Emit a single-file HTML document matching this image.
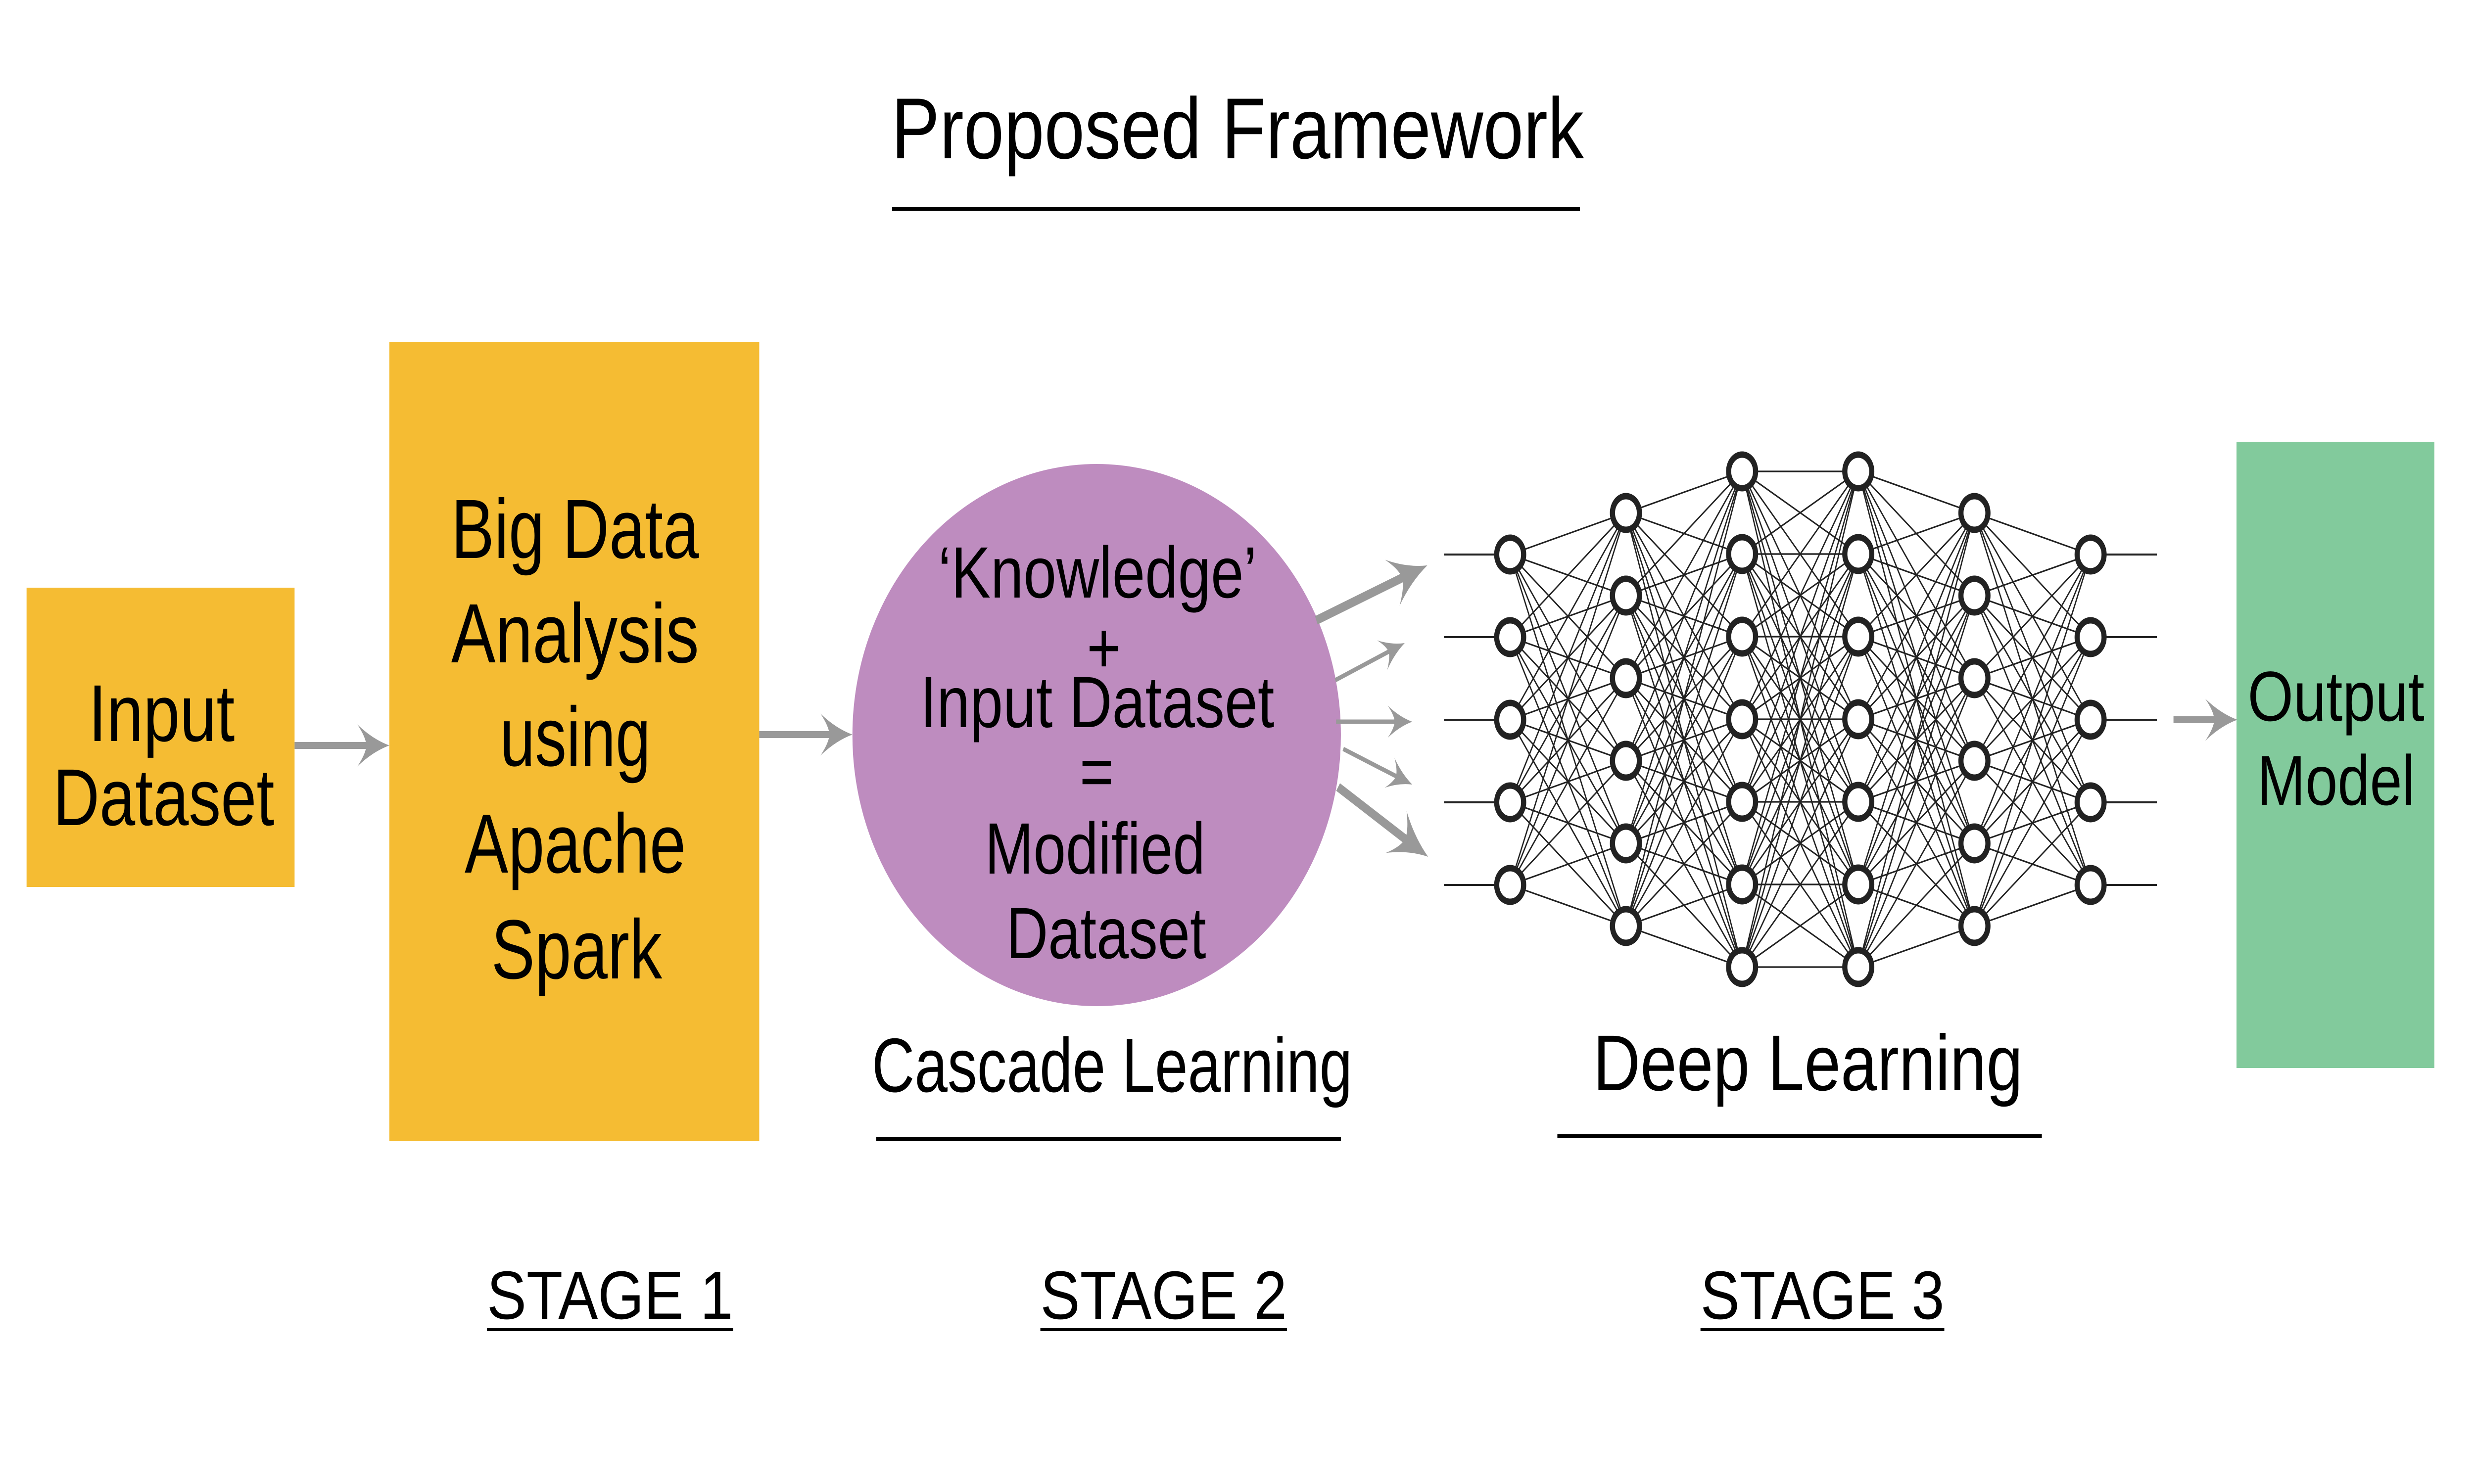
<!DOCTYPE html>
<html><head><meta charset="utf-8"><style>
html,body{margin:0;padding:0;background:#fff;width:100%;height:100%;overflow:hidden;}
svg{display:block;position:absolute;left:0;top:0;width:100vw;height:100vh}
text{font-family:"Liberation Sans",Arial,sans-serif;fill:#000}
</style></head><body>
<svg id="s" viewBox="0 0 6240 3000" preserveAspectRatio="none" xmlns="http://www.w3.org/2000/svg">
<rect x="0" y="0" width="6240" height="3000" fill="#fff"/>
<text x="2248" y="320" font-size="175" textLength="1747" lengthAdjust="spacingAndGlyphs">Proposed Framework</text>
<rect x="2250" y="418" width="1735" height="8" fill="#000"/>
<rect x="67" y="1188" width="676" height="605" fill="#F5BC33"/>
<rect x="982" y="691" width="933" height="1616" fill="#F5BC33"/>
<ellipse cx="2766" cy="1486" rx="616" ry="548" fill="#BE8CBF"/>
<rect x="5641" y="893" width="499" height="1266" fill="#82CA9C"/>
<text x="223" y="1498" font-size="163" textLength="369" lengthAdjust="spacingAndGlyphs">Input</text>
<text x="134" y="1668" font-size="163" textLength="558" lengthAdjust="spacingAndGlyphs">Dataset</text>
<text x="1138" y="1128" font-size="170" textLength="625" lengthAdjust="spacingAndGlyphs">Big Data</text>
<text x="1138" y="1339" font-size="170" textLength="625" lengthAdjust="spacingAndGlyphs">Analysis</text>
<text x="1261" y="1548" font-size="170" textLength="380" lengthAdjust="spacingAndGlyphs">using</text>
<text x="1172" y="1764" font-size="170" textLength="558" lengthAdjust="spacingAndGlyphs">Apache</text>
<text x="1239" y="1978" font-size="170" textLength="431" lengthAdjust="spacingAndGlyphs">Spark</text>
<text x="2366" y="1208" font-size="147" textLength="804" lengthAdjust="spacingAndGlyphs">‘Knowledge’</text>
<text x="2784" y="1360" font-size="147" text-anchor="middle">+</text>
<text x="2321" y="1470" font-size="147" textLength="893" lengthAdjust="spacingAndGlyphs">Input Dataset</text>
<text x="2766" y="1610" font-size="147" text-anchor="middle">=</text>
<text x="2484" y="1766" font-size="147" textLength="556" lengthAdjust="spacingAndGlyphs">Modified</text>
<text x="2538" y="1937" font-size="147" textLength="504" lengthAdjust="spacingAndGlyphs">Dataset</text>
<text x="5669" y="1457" font-size="143" textLength="446" lengthAdjust="spacingAndGlyphs">Output</text>
<text x="5693" y="1627" font-size="143" textLength="398" lengthAdjust="spacingAndGlyphs">Model</text>
<text x="2199" y="2207" font-size="155" textLength="1212" lengthAdjust="spacingAndGlyphs">Cascade Learning</text>
<rect x="2210" y="2299" width="1172" height="8" fill="#000"/>
<text x="4018" y="2204" font-size="160" textLength="1084" lengthAdjust="spacingAndGlyphs">Deep Learning</text>
<rect x="3928" y="2293" width="1222" height="8" fill="#000"/>
<text x="1228" y="2666" font-size="138" textLength="621" lengthAdjust="spacingAndGlyphs">STAGE 1</text>
<rect x="1228" y="2685" width="621" height="6" fill="#000"/>
<text x="2624" y="2666" font-size="138" textLength="622" lengthAdjust="spacingAndGlyphs">STAGE 2</text>
<rect x="2624" y="2685" width="622" height="6" fill="#000"/>
<text x="4289" y="2666" font-size="138" textLength="615" lengthAdjust="spacingAndGlyphs">STAGE 3</text>
<rect x="4289" y="2685" width="615" height="6" fill="#000"/>
<g id="nn"></g>
<g id="arrows"></g>
</svg>
<script>
(function(){
var NS="http://www.w3.org/2000/svg";
var nn=document.getElementById('nn'), ar=document.getElementById('arrows');
function el(t,a,p){var e=document.createElementNS(NS,t);for(var k in a)e.setAttribute(k,a[k]);p.appendChild(e);return e;}
var xs=[3809,4101,4394,4687,4980,5273], cnt=[5,6,7,7,6,5], y0={5:1121,6:1037,7:953};
var L=[];
for(var i=0;i<6;i++){var a=[];for(var k=0;k<cnt[i];k++)a.push([xs[i],y0[cnt[i]]+k*167]);L.push(a);}
var lines=el('g',{stroke:'#222','stroke-width':3.2},nn);
for(var i=0;i<5;i++)for(var a=0;a<L[i].length;a++)for(var b=0;b<L[i+1].length;b++)
 el('line',{x1:L[i][a][0],y1:L[i][a][1],x2:L[i+1][b][0],y2:L[i+1][b][1]},lines);
L[0].forEach(function(p){el('line',{x1:3642,y1:p[1],x2:p[0],y2:p[1],'stroke-width':4},lines);});
L[5].forEach(function(p){el('line',{x1:p[0],y1:p[1],x2:5440,y2:p[1],'stroke-width':4},lines);});
L.forEach(function(l){l.forEach(function(p){el('circle',{cx:p[0],cy:p[1],r:34,fill:'#fff',stroke:'#222','stroke-width':13},nn);});});
function arrow(x1,y1,x2,y2,w,s){
 var ang=Math.atan2(y2-y1,x2-x1), len=Math.hypot(x2-x1,y2-y1);
 var g=el('g',{transform:'translate('+x2+','+y2+') rotate('+(ang*180/Math.PI)+')'},ar);
 el('rect',{x:-len,y:-w/2,width:len-60*s,height:w,fill:'#999'},g);
 el('path',{d:'M0,0 Q-50,-15 -95,-50 Q-70,-20 -68,0 Q-70,20 -95,50 Q-50,15 0,0 Z',transform:'scale('+s+')',fill:'#999'},g);
}
arrow(743,1507,982,1507,14,0.85);
arrow(1915,1485,2150,1485,14,0.85);
arrow(5482,1455,5643,1455,14,0.85);
arrow(3320,1254,3600,1143,18,1);
arrow(3368,1375,3543,1300,9,0.65);
arrow(3370,1459,3562,1459,9,0.65);
arrow(3388,1514,3562,1586,9,0.65);
arrow(3375,1591,3602,1732,18,1);
})();
</script>
</body></html>
